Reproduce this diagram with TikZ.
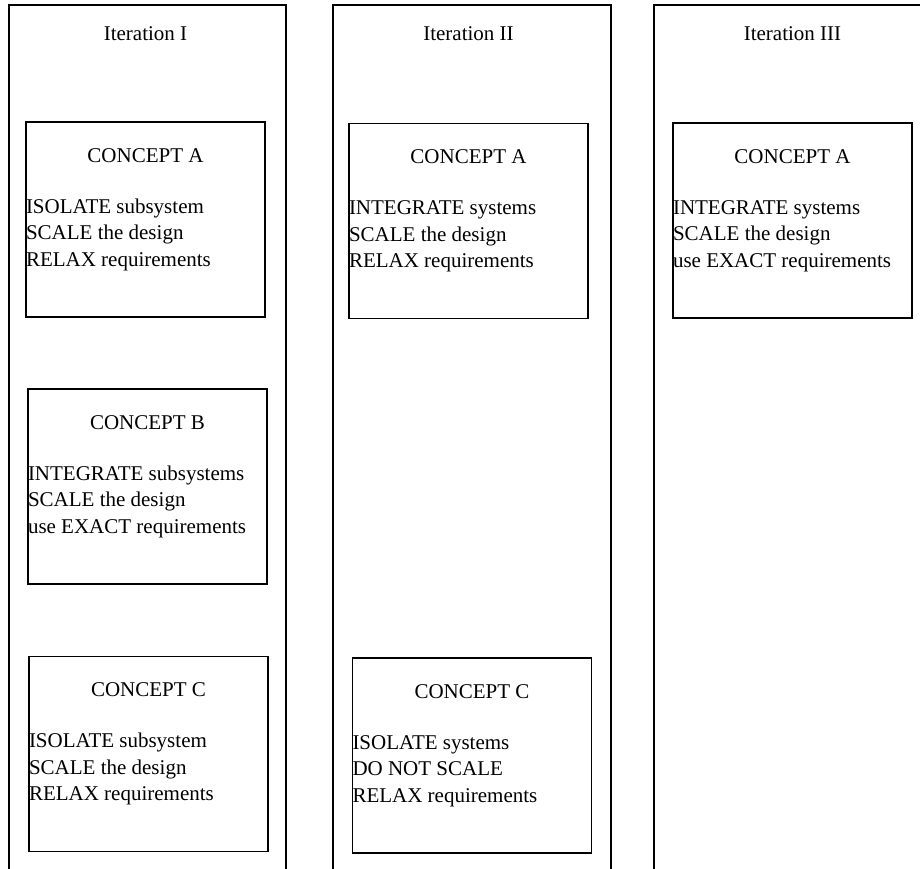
\documentclass[tikz,border=0pt]{standalone}
\usepackage{fontspec}
\setmainfont{Liberation Serif}
\usetikzlibrary{positioning}

\begin{document}
\begin{tikzpicture}[x=1pt, y=1pt, line width=1.1pt,
  font=\fontsize{21}{26.5}\selectfont,
  concept/.style = {draw, minimum width=239pt, minimum height=195pt, inner sep=0pt},
  heading/.style = {anchor=base, inner sep=0pt},
  steps/.style = {anchor=base west, align=left, inner sep=0pt}]
\useasboundingbox (0,0) rectangle (920,869);
% the three iteration columns, open at the bottom
\draw (9,0) -- (9,864) -- (286,864) -- (286,0);
\draw (333,0) -- (333,864) -- (611,864) -- (611,0);
\draw (654,0) -- (654,864) -- (920,864);
\node[heading] (it1) at (145.5,828) {Iteration I};
\node[heading] (it2) at (468.5,828) {Iteration II};
\node[heading] (it3) at (792.5,828) {Iteration III};
% iteration I
\node[concept] (a1) at (145.5,649.5) {};
\node[below=41pt of a1.north, heading] {CONCEPT A};
\node[below=145pt of a1.north west, steps] {ISOLATE subsystem\\SCALE the design\\RELAX requirements};
\node[concept] (b1) at (147.5,382.5) {};
\node[below=41pt of b1.north, heading] {CONCEPT B};
\node[below=145pt of b1.north west, steps] {INTEGRATE subsystems\\SCALE the design\\use EXACT requirements};
\node[concept] (c1) at (148.5,115) {};
\node[below=41pt of c1.north, heading] {CONCEPT C};
\node[below=145pt of c1.north west, steps] {ISOLATE subsystem\\SCALE the design\\RELAX requirements};
% iteration II
\node[concept] (a2) at (468.5,648) {};
\node[below=41pt of a2.north, heading] {CONCEPT A};
\node[below=145pt of a2.north west, steps] {INTEGRATE systems\\SCALE the design\\RELAX requirements};
\node[concept] (c2) at (472,113.5) {};
\node[below=41pt of c2.north, heading] {CONCEPT C};
\node[below=145pt of c2.north west, steps] {ISOLATE systems\\DO NOT SCALE\\RELAX requirements};
% iteration III
\node[concept] (a3) at (792.5,648.5) {};
\node[below=41pt of a3.north, heading] {CONCEPT A};
\node[below=145pt of a3.north west, steps] {INTEGRATE systems\\SCALE the design\\use EXACT requirements};
\end{tikzpicture}
\end{document}
